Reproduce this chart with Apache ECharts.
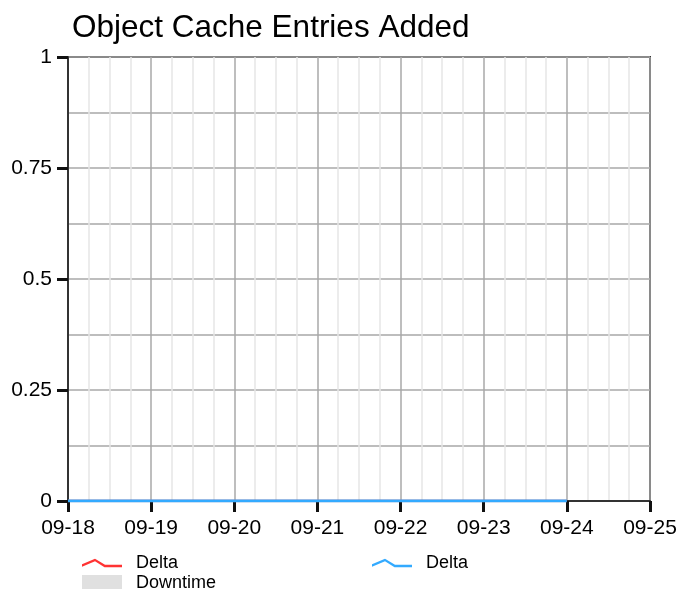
<!DOCTYPE html>
<html><head><meta charset="utf-8">
<script src="https://cdn.jsdelivr.net/npm/echarts@6/dist/echarts.min.js"></script>
<style>html,body{margin:0;padding:0;background:#fff}#c{width:680px;height:589px}</style>
</head><body><div id="c"></div>
<script>
const xTickLabels = ['09-18','09-19','09-20','09-21','09-22','09-23','09-24','09-25'];
const yTickLabels = ['0','0.25','0.5','0.75','1'];
// x = days since 09-18
const redX = [0,1,2,3,4,5,6];
const redY = [0,0,0,0,0,0,0];
const blueX = [0,1,2,3,4,5,6];
const blueY = [0,0,0,0,0,0,0];

const font = 'Liberation Sans, Arial, sans-serif';
const chart = echarts.init(document.getElementById('c'));
const zip = (a,b)=>a.map((v,i)=>[v,b[i]]);
const legIcon = 'path://M0,5.5 L13,0 L23,6 L40,6 L40,8.5 L22.5,8.5 L13,2.5 L0,8 Z';
chart.setOption({
  animation:false,
  textStyle:{fontFamily:font},
  title:{text:'Object Cache Entries Added',left:67,top:7,textStyle:{fontFamily:font,fontSize:31.5,fontWeight:'normal',color:'#000'}},
  grid:{left:68,right:30,top:57,bottom:88,show:true,borderColor:'#333',borderWidth:2,backgroundColor:'transparent'},
  xAxis:{type:'value',min:0,max:7,interval:1,
    axisLine:{show:true,lineStyle:{color:'#333',width:2}},
    axisTick:{show:true,length:11,lineStyle:{color:'#111',width:3}},
    axisLabel:{margin:17,fontSize:21,color:'#000',fontFamily:font,formatter:v=>xTickLabels[Math.round(v)]},
    splitLine:{show:true,lineStyle:{color:'#a8a8a8',width:1.5}},
    minorTick:{show:false,splitNumber:4},
    minorSplitLine:{show:true,lineStyle:{color:'#e6e6e6',width:1.5}}
  },
  yAxis:{type:'value',min:0,max:1,interval:0.25,
    axisLine:{show:true,lineStyle:{color:'#333',width:2}},
    axisTick:{show:true,length:11,lineStyle:{color:'#111',width:3}},
    axisLabel:{margin:16,fontSize:21,color:'#000',fontFamily:font,formatter:v=>yTickLabels[Math.round(v*4)]},
    splitLine:{show:true,lineStyle:{color:'#a8a8a8',width:1.5}},
    minorTick:{show:false,splitNumber:2},
    minorSplitLine:{show:true,lineStyle:{color:'#a8a8a8',width:1.5}}
  },
  legend:[
    {left:82,top:554,padding:0,itemWidth:40,itemHeight:9,itemGap:14,textStyle:{fontSize:18,color:'#000',fontFamily:font,padding:[0,0,0,9]},data:[{name:'Delta',icon:legIcon}],formatter:()=>'Delta'},
    {left:372,top:554,padding:0,itemWidth:40,itemHeight:9,textStyle:{fontSize:18,color:'#000',fontFamily:font,padding:[0,0,0,9]},data:[{name:'Delta2',icon:legIcon}],formatter:()=>'Delta'},
    {left:82,top:574,padding:0,itemWidth:40,itemHeight:16,textStyle:{fontSize:18,color:'#000',fontFamily:font,padding:[0,0,0,9]},data:[{name:'Downtime',icon:'rect'}]}
  ],
  series:[
    {name:'Delta',type:'line',data:zip(redX,redY),showSymbol:false,color:'#ff3333',lineStyle:{width:2.5}},
    {name:'Delta2',type:'line',data:zip(blueX,blueY),showSymbol:false,color:'#33aaff',lineStyle:{width:3}},
    {name:'Downtime',type:'line',data:[],color:'#e0e0e0'}
  ]
});
</script></body></html>
